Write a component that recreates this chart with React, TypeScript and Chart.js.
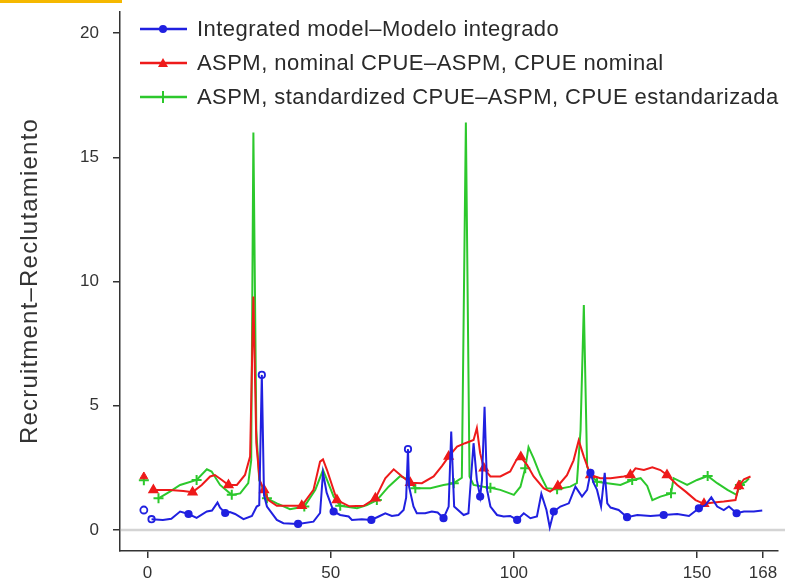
import React, { useEffect, useRef } from "react";
import { Chart, registerables } from "chart.js";
Chart.register(...registerables);

const FONT = '"Liberation Sans", Arial, Helvetica, sans-serif';

const xTicks = [0, 50, 100, 150, 168];
const yTicks = [0, 5, 10, 15, 20];
const yTitle = "Recruitment–Reclutamiento";
const legendLabels = [
  "Integrated model–Modelo integrado",
  "ASPM, nominal CPUE–ASPM, CPUE nominal",
  "ASPM, standardized CPUE–ASPM, CPUE estandarizada",
];

// initial (unconnected) points at t = -1
const startT = -1;
const blueStart = 0.8;
const redStart = 2.15;
const greenStart = 2.0;

// Integrated model
const blueT = [1.1, 4.2, 6.5, 8.9, 11.2, 13.4, 16.2, 17.6, 19.1, 19.8, 21.2, 22.5, 23.9, 26.2, 28.5, 29.8, 30.5, 31.2, 31.8, 32.6, 35.3, 37.1, 41.1, 45.3, 47.1, 47.9, 48.9, 50.8, 52.6, 54.9, 55.8, 58.5, 61.1, 63.1, 64.9, 66.7, 68.5, 69.9, 70.6, 71.1, 71.4, 72.6, 73.5, 75.8, 77.6, 79.2, 80.8, 82.2, 82.9, 83.7, 86.3, 87.6, 89.0, 89.9, 90.8, 91.3, 92.0, 92.7, 93.6, 95.4, 97.2, 99.0, 100.9, 102.7, 104.5, 106.3, 107.5, 108.9, 109.8, 110.9, 112.7, 115.0, 116.8, 117.7, 118.6, 120.0, 120.9, 121.8, 122.7, 123.8, 124.8, 125.5, 126.4, 128.6, 130.9, 133.7, 137.3, 140.9, 144.6, 147.8, 150.5, 152.3, 153.9, 155.5, 157.3, 158.7, 160.8, 162.8, 165.5, 167.8];
const blueV = [0.43, 0.4, 0.45, 0.74, 0.64, 0.48, 0.74, 0.78, 1.1, 0.89, 0.68, 0.72, 0.64, 0.43, 0.56, 0.94, 1.0, 6.24, 1.4, 0.94, 0.4, 0.27, 0.24, 0.33, 0.68, 2.3, 1.5, 0.74, 0.6, 0.54, 0.4, 0.43, 0.4, 0.54, 0.67, 0.56, 0.6, 0.8, 1.3, 3.25, 1.74, 0.94, 0.67, 0.67, 0.74, 0.7, 0.47, 0.94, 3.96, 0.94, 0.6, 0.67, 3.49, 2.0, 1.34, 2.0, 4.96, 1.6, 0.94, 0.6, 0.54, 0.56, 0.4, 0.67, 0.47, 0.54, 1.45, 0.8, 0.1, 0.74, 0.94, 1.07, 1.74, 1.54, 1.34, 1.61, 2.3, 1.88, 1.61, 0.94, 2.3, 1.07, 0.9, 0.8, 0.51, 0.6, 0.56, 0.6, 0.64, 0.56, 0.87, 1.0, 1.31, 0.94, 0.8, 0.94, 0.67, 0.74, 0.74, 0.78];
const blueMarks = [1.1, 11.2, 21.2, 31.2, 41.1, 50.8, 61.1, 71.1, 80.8, 90.8, 100.9, 110.9, 120.9, 130.9, 140.9, 150.5, 160.8];
const blueOpen = [1.1, 31.2, 71.1];

// ASPM, nominal CPUE
const redT = [1.6, 6.1, 9.8, 12.3, 14.8, 17.1, 18.4, 20.3, 22.1, 24.4, 26.6, 28.0, 28.9, 29.7, 30.6, 31.8, 33.0, 35.3, 38.0, 42.1, 45.3, 47.1, 47.9, 49.0, 51.7, 55.1, 59.0, 62.2, 64.9, 67.2, 69.5, 71.7, 74.9, 78.1, 80.4, 82.2, 84.5, 86.7, 89.0, 89.9, 90.8, 91.8, 93.6, 96.3, 99.0, 100.7, 101.9, 103.6, 105.4, 108.1, 109.9, 112.0, 114.5, 116.3, 117.7, 119.1, 120.9, 123.6, 126.4, 130.0, 131.8, 133.2, 135.5, 137.8, 140.0, 141.8, 143.2, 144.6, 146.9, 149.6, 151.9, 154.6, 157.3, 160.5, 161.4, 162.8, 164.6];
const redV = [1.61, 1.61, 1.57, 1.52, 1.81, 2.15, 2.21, 2.01, 1.81, 1.81, 2.21, 2.95, 9.4, 3.5, 2.0, 1.61, 1.2, 0.97, 0.97, 0.97, 1.61, 2.75, 2.84, 2.41, 1.2, 0.95, 0.97, 1.27, 2.08, 2.44, 2.15, 1.9, 1.88, 2.15, 2.58, 2.95, 3.35, 3.49, 3.62, 4.1, 3.09, 2.48, 2.15, 2.15, 2.35, 2.82, 2.93, 2.62, 2.15, 1.68, 1.54, 1.77, 2.2, 2.8, 3.6, 2.95, 2.21, 2.08, 2.08, 2.15, 2.21, 2.48, 2.41, 2.52, 2.41, 2.21, 2.01, 1.81, 1.54, 1.2, 1.05, 1.1, 1.14, 1.2, 1.77, 2.04, 2.15];
const redMarks = [1.6, 12.3, 22.1, 31.8, 42.1, 51.7, 62.2, 71.7, 82.2, 91.8, 101.9, 112.0, 120.9, 131.8, 141.8, 151.9, 161.4];

// ASPM, standardized CPUE
const greenT = [3.0, 6.1, 8.9, 13.4, 16.2, 17.5, 19.8, 23.0, 25.3, 27.5, 28.3, 28.9, 29.7, 30.5, 32.6, 35.3, 38.9, 42.8, 45.8, 47.9, 49.0, 50.8, 52.6, 57.2, 59.9, 62.6, 65.8, 69.0, 71.3, 73.1, 77.2, 80.8, 83.6, 85.8, 86.9, 87.9, 89.0, 91.7, 93.6, 96.3, 100.0, 101.8, 103.1, 104.0, 105.4, 107.2, 109.0, 111.8, 115.4, 117.2, 118.2, 119.1, 120.0, 120.9, 122.7, 125.5, 129.1, 132.3, 134.6, 136.4, 137.8, 140.0, 142.9, 143.6, 147.3, 150.0, 152.9, 155.5, 158.3, 160.8, 161.7, 163.3, 164.2];
const greenV = [1.27, 1.54, 1.81, 2.01, 2.44, 2.35, 1.81, 1.41, 1.47, 1.88, 2.8, 16.0, 4.0, 2.0, 1.27, 1.07, 0.83, 0.94, 1.61, 2.41, 2.01, 1.34, 0.97, 0.87, 1.0, 1.2, 1.74, 2.17, 2.01, 1.68, 1.68, 1.81, 1.88, 2.1, 16.4, 2.15, 1.81, 1.74, 1.7, 1.61, 1.41, 1.74, 2.48, 3.33, 2.88, 2.21, 1.68, 1.64, 1.74, 1.88, 4.0, 9.05, 2.55, 2.21, 1.94, 1.88, 1.81, 2.01, 2.08, 1.77, 1.2, 1.34, 1.47, 2.08, 1.81, 2.01, 2.17, 1.88, 1.61, 1.41, 1.81, 1.94, 2.08];
const greenMarks = [3.0, 13.4, 23.0, 32.6, 42.8, 52.6, 62.6, 73.1, 83.6, 93.6, 103.1, 111.8, 122.7, 132.3, 142.9, 152.9, 161.7];

const BLUE = "#2020e0";
const RED = "#ee1a1a";
const GREEN = "#2cc82c";
const AXIS = "#333333";

const toPts = (t: number[], v: number[]) => t.map((x, i) => ({ x, y: v[i] }));

function drawMarker(ctx: CanvasRenderingContext2D, style: string, x: number, y: number, color: string) {
  ctx.save();
  ctx.fillStyle = color;
  ctx.strokeStyle = color;
  ctx.lineWidth = 2;
  ctx.beginPath();
  if (style === "circle") {
    ctx.arc(x, y, 4, 0, Math.PI * 2);
    ctx.fill();
  } else if (style === "triangle") {
    ctx.moveTo(x, y - 5);
    ctx.lineTo(x + 5, y + 4);
    ctx.lineTo(x - 5, y + 4);
    ctx.closePath();
    ctx.fill();
  } else {
    ctx.moveTo(x - 6, y);
    ctx.lineTo(x + 6, y);
    ctx.moveTo(x, y - 6);
    ctx.lineTo(x, y + 6);
    ctx.stroke();
  }
  ctx.restore();
}

const decorPlugin = {
  id: "decor",
  beforeDatasetsDraw(chart: any) {
    const { ctx, chartArea, scales } = chart;
    const y0 = scales.y.getPixelForValue(0);
    ctx.save();
    ctx.strokeStyle = "#d4d4d4";
    ctx.lineWidth = 2.5;
    ctx.beginPath();
    ctx.moveTo(chartArea.left + 1, y0);
    ctx.lineTo(chart.width, y0);
    ctx.stroke();
    ctx.restore();
  },
  afterDraw(chart: any) {
    const { ctx } = chart;
    ctx.save();
    // top-left accent bar
    ctx.fillStyle = "#f5b800";
    ctx.fillRect(0, 0, 122, 3);
    // y title
    ctx.translate(30, 281);
    ctx.rotate(-Math.PI / 2);
    ctx.fillStyle = AXIS;
    ctx.font = `24px ${FONT}`;
    (ctx as any).letterSpacing = "1.2px";
    ctx.textAlign = "center";
    ctx.textBaseline = "middle";
    ctx.fillText(yTitle, 0, 0);
    ctx.restore();

    // legend
    const colors = [BLUE, RED, GREEN];
    const styles = ["circle", "triangle", "cross"];
    const rows = [29, 63, 97];
    ctx.save();
    legendLabels.forEach((lab, i) => {
      const y = rows[i];
      ctx.strokeStyle = colors[i];
      ctx.lineWidth = 2.5;
      ctx.beginPath();
      ctx.moveTo(140, y);
      ctx.lineTo(187, y);
      ctx.stroke();
      drawMarker(ctx, styles[i], 163, y, colors[i]);
      ctx.fillStyle = "#2a2a2a";
      ctx.font = `22px ${FONT}`;
      (ctx as any).letterSpacing = "0.45px";
      ctx.textAlign = "left";
      ctx.textBaseline = "middle";
      ctx.fillText(lab, 197, y + 1);
    });
    ctx.restore();
  },
};

export default function App() {
  const ref = useRef<HTMLCanvasElement | null>(null);
  useEffect(() => {
    if (!ref.current) return;
    const mk = (marks: number[], r: number) => (c: any) => (c.raw && marks.includes(c.raw.x) ? r : 0);
    const chart = new Chart(ref.current, {
      type: "line",
      data: {
        datasets: [
          {
            label: legendLabels[0],
            data: toPts(blueT, blueV),
            borderColor: BLUE,
            borderWidth: 2,
            pointStyle: "circle",
            pointRadius: mk(blueMarks, 3.2),
            pointBorderWidth: 1.8,
            pointBorderColor: BLUE,
            pointBackgroundColor: (c: any) => (c.raw && blueOpen.includes(c.raw.x) ? "rgba(255,255,255,0)" : BLUE),
            tension: 0,
          },
          {
            label: legendLabels[1],
            data: toPts(redT, redV),
            borderColor: RED,
            borderWidth: 2,
            pointStyle: "triangle",
            pointRadius: mk(redMarks, 4.5),
            pointBorderColor: RED,
            pointBackgroundColor: RED,
            tension: 0,
          },
          {
            label: legendLabels[2],
            data: toPts(greenT, greenV),
            borderColor: GREEN,
            borderWidth: 2,
            pointStyle: "cross",
            pointRadius: mk(greenMarks, 5),
            pointBorderWidth: 2,
            pointBorderColor: GREEN,
            pointBackgroundColor: GREEN,
            tension: 0,
          },
          {
            data: [{ x: startT, y: blueStart }],
            showLine: false,
            pointStyle: "circle",
            pointRadius: 3.5,
            pointBorderWidth: 1.8,
            pointBorderColor: BLUE,
            pointBackgroundColor: "rgba(255,255,255,0)",
          },
          {
            data: [{ x: startT, y: redStart }],
            showLine: false,
            pointStyle: "triangle",
            pointRadius: 4.5,
            pointBorderColor: RED,
            pointBackgroundColor: RED,
          },
          {
            data: [{ x: startT, y: greenStart }],
            showLine: false,
            pointStyle: "cross",
            pointRadius: 5,
            pointBorderWidth: 2,
            pointBorderColor: GREEN,
          },
        ],
      } as any,
      options: {
        animation: false,
        responsive: true,
        maintainAspectRatio: false,
        layout: { padding: { top: 12, left: 0, right: 0, bottom: 0 } },
        plugins: { legend: { display: false }, tooltip: { enabled: false } },
        scales: {
          x: {
            type: "linear",
            min: -7.51,
            max: 172.1,
            afterBuildTicks: (s: any) => {
              s.ticks = xTicks.map((v) => ({ value: v }));
            },
            afterFit: (s: any) => {
              s.height = 34;
              s.paddingLeft = 0;
              s.paddingRight = 0;
            },
            grid: { display: true, drawOnChartArea: false, drawTicks: true, tickLength: 7, color: AXIS, lineWidth: 1.5 },
            border: { display: true, color: AXIS, width: 1.5 },
            ticks: {
              font: { family: FONT, size: 17 },
              color: AXIS,
              padding: 5,
              maxRotation: 0,
              autoSkip: false,
              callback: (v: any) => String(v),
            },
          },
          y: {
            type: "linear",
            min: -0.85,
            max: 20.85,
            afterBuildTicks: (s: any) => {
              s.ticks = yTicks.map((v) => ({ value: v }));
            },
            afterFit: (s: any) => {
              s.width = 120;
              s.paddingTop = 0;
              s.paddingBottom = 0;
            },
            grid: { display: true, drawOnChartArea: false, drawTicks: true, tickLength: 7, color: AXIS, lineWidth: 1.5 },
            border: { display: true, color: AXIS, width: 1.5 },
            ticks: {
              font: { family: FONT, size: 17 },
              color: AXIS,
              padding: 14,
              autoSkip: false,
              callback: (v: any) => String(v),
            },
          },
        },
      } as any,
      plugins: [decorPlugin],
    });
    return () => chart.destroy();
  }, []);
  return (
    <div style={{ position: "absolute", left: 0, top: 0, width: 785, height: 585, background: "#ffffff" }}>
      <canvas ref={ref} />
    </div>
  );
}
